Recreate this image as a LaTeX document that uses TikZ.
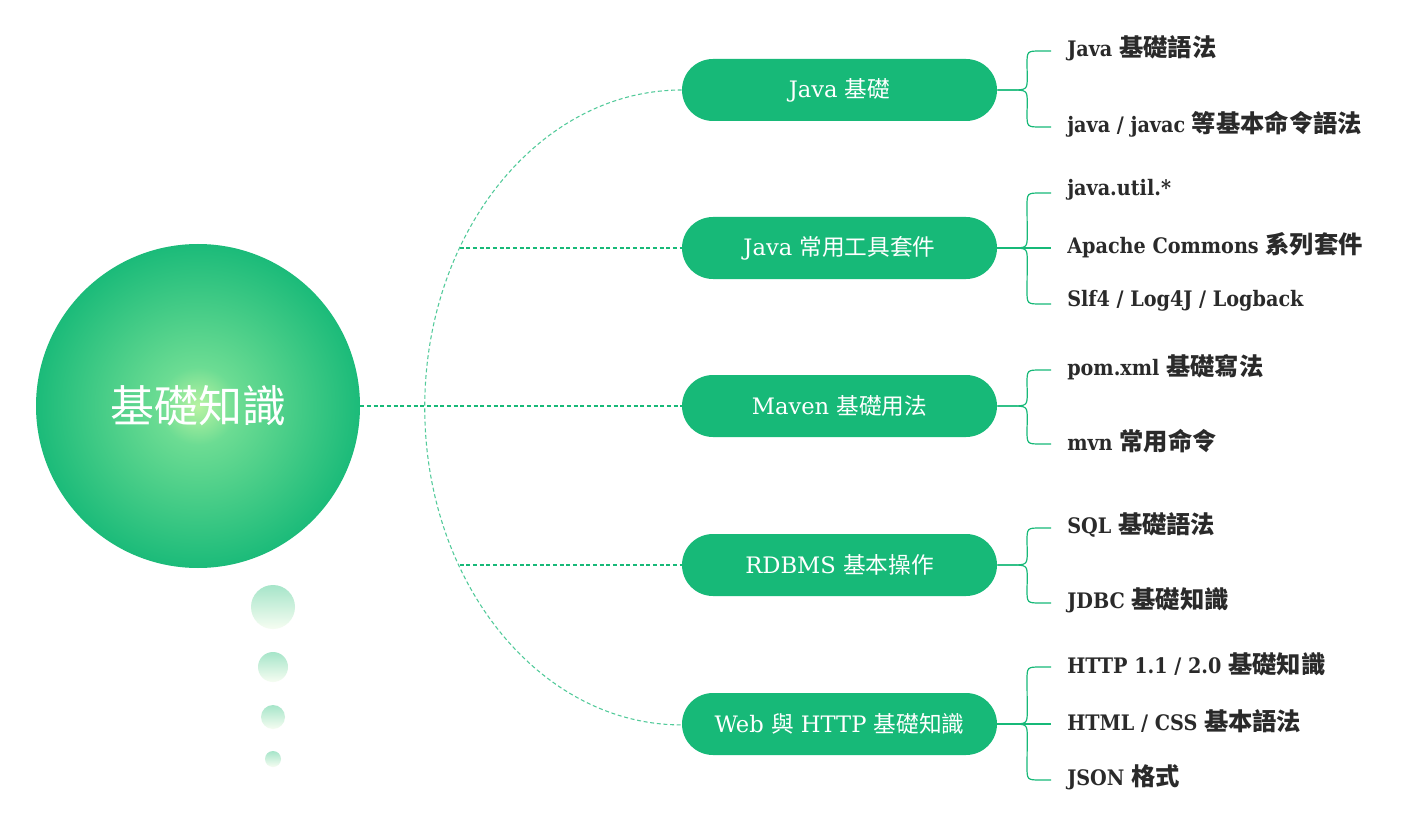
\documentclass[tikz,border=0pt]{standalone}
\usepackage{fontspec}
\setmainfont{DejaVu Serif}
\newfontfamily\lblfont{DejaVu Serif Condensed}
\newfontfamily\cjk{Noto Sans CJK TC}
\newfontfamily\cjkL[Scale=1.14]{Noto Sans CJK TC}
\usetikzlibrary{calc,backgrounds}
\definecolor{pg}{HTML}{17B978}
\definecolor{ballc}{HTML}{B9F3A2}
\definecolor{ballm}{HTML}{6CDC93}
\definecolor{dtop}{HTML}{A6E5C9}
\definecolor{dmid}{HTML}{D4F7CB}
\definecolor{dbot}{HTML}{F6FDF2}
\definecolor{lbl}{HTML}{2A2A2A}
\pgfdeclareradialshading{ballshade}{\pgfpoint{0bp}{0bp}}{color(0bp)=(ballc); color(6bp)=(ballm); color(26bp)=(pg); color(50bp)=(pg)}
\newcommand\C[1]{{\cjk #1}}
\newcommand\D[1]{{\cjkL #1}}
\tikzset{
  pill/.style={rectangle, rounded corners=23.25pt, fill=pg, minimum width=236.25pt, minimum height=46.5pt, inner sep=0pt, text=white, font=\fontsize{17}{20}\selectfont},
  leaf/.style={anchor=west, inner sep=0pt, text=lbl, font=\lblfont\bfseries\fontsize{16}{20}\selectfont},
  brace/.style={pg, line width=0.9pt},
  dashline/.style={pg, line width=0.8pt, dash pattern=on 3pt off 2pt},
  dot/.style={circle, inner sep=0pt, top color=dtop, middle color=dmid, bottom color=dbot, draw=none},
}
\newcommand\brc[3]{%
  \draw[brace] (#1.east) -- ($(#1.east)+(13,0)$)
    .. controls ($(#1.east)+(30,0)$) .. ($(#1.east)+(30,{(#3)*14})$)
    -- ($(#2.west)+(-40,{3-(#3)*14})$)
    .. controls ($(#2.west)+(-40,3)$) .. ($(#2.west)+(-26,3)$)
    -- ($(#2.west)+(-16,3)$);}
\newcommand\brm[2]{%
  \draw[brace] (#1.east) -- ($(#1.east -| #2.west)+(-16,0)$);}
\begin{document}
\begin{tikzpicture}[x=0.75pt,y=-0.75pt]
\useasboundingbox (0,0) rectangle (1418,813);
\fill[white] (0,0) rectangle (1418,813);

% root
\node[circle, minimum size=243pt, inner sep=0pt, shade, shading=ballshade, text=white, font=\cjk\fontsize{33}{38}\selectfont] (root) at (198,406) {基礎知識};

% dots
\node[dot, minimum size=33pt] (d1) at (273,607) {};
\node[dot, minimum size=22.5pt] (d2) at (273,667) {};
\node[dot, minimum size=18pt] (d3) at (273,717) {};
\node[dot, minimum size=12pt] (d4) at (273,759) {};

% pills
\node[pill] (p1) at (839.5,90) {Java \C{基礎}};
\node[pill] (p2) at (839.5,248) {Java \C{常用工具套件}};
\node[pill] (p3) at (839.5,406) {Maven \C{基礎用法}};
\node[pill] (p4) at (839.5,565) {RDBMS \C{基本操作}};
\node[pill] (p5) at (839.5,724) {Web \C{與} HTTP \C{基礎知識}};

% glows
\begin{scope}[on background layer]
\foreach \n in {p1,p2,p3,p4,p5}{
  \foreach \k in {1,...,6}{
    \draw[pg, opacity=0.035, line width=\k*2.2pt, rounded corners=23.25pt] (\n.south west) rectangle (\n.north east);
  }
}
\foreach \k in {1,...,6}{
  \draw[pg, opacity=0.03, line width=\k*2.6pt] (root.center) circle[radius=121.5pt];
}
\end{scope}

% leaves
\node[leaf] (l11) at (1067,48) {Java \D{基礎語法}};
\node[leaf] (l12) at (1067,124) {java / javac \D{等基本命令語法}};
\node[leaf] (l21) at (1067,190) {java.util.*};
\node[leaf] (l22) at (1067,245) {Apache Commons \D{系列套件}};
\node[leaf] (l23) at (1067,301) {Slf4 / Log4J / Logback};
\node[leaf] (l31) at (1067,367) {pom.xml \D{基礎寫法}};
\node[leaf] (l32) at (1067,441) {mvn \D{常用命令}};
\node[leaf] (l41) at (1067,525) {SQL \D{基礎語法}};
\node[leaf] (l42) at (1067,600) {JDBC \D{基礎知識}};
\node[leaf] (l51) at (1067,664) {HTTP 1.1 / 2.0 \D{基礎知識}};
\node[leaf] (l52) at (1067,721) {HTML / CSS \D{基本語法}};
\node[leaf] (l53) at (1067,777) {JSON \D{格式}};

% braces
\brc{p1}{l11}{-1}
\brc{p1}{l12}{1}
\brc{p2}{l21}{-1}
\brm{p2}{l22}
\brc{p2}{l23}{1}
\brc{p3}{l31}{-1}
\brc{p3}{l32}{1}
\brc{p4}{l41}{-1}
\brc{p4}{l42}{1}
\brc{p5}{l51}{-1}
\brm{p5}{l52}
\brc{p5}{l53}{1}

% dashed connectors
\coordinate (a2) at (459.5,248);
\coordinate (a4) at (459.5,565);
\draw[dashline, opacity=0.75] (p1.west) arc[start angle=90, end angle=270, x radius=192.75pt, y radius=238.1pt];
\draw[dashline] (root.east) -- (p3.west);
\draw[dashline] (a2) -- (p2.west);
\draw[dashline] (a4) -- (p4.west);
\end{tikzpicture}
\end{document}
